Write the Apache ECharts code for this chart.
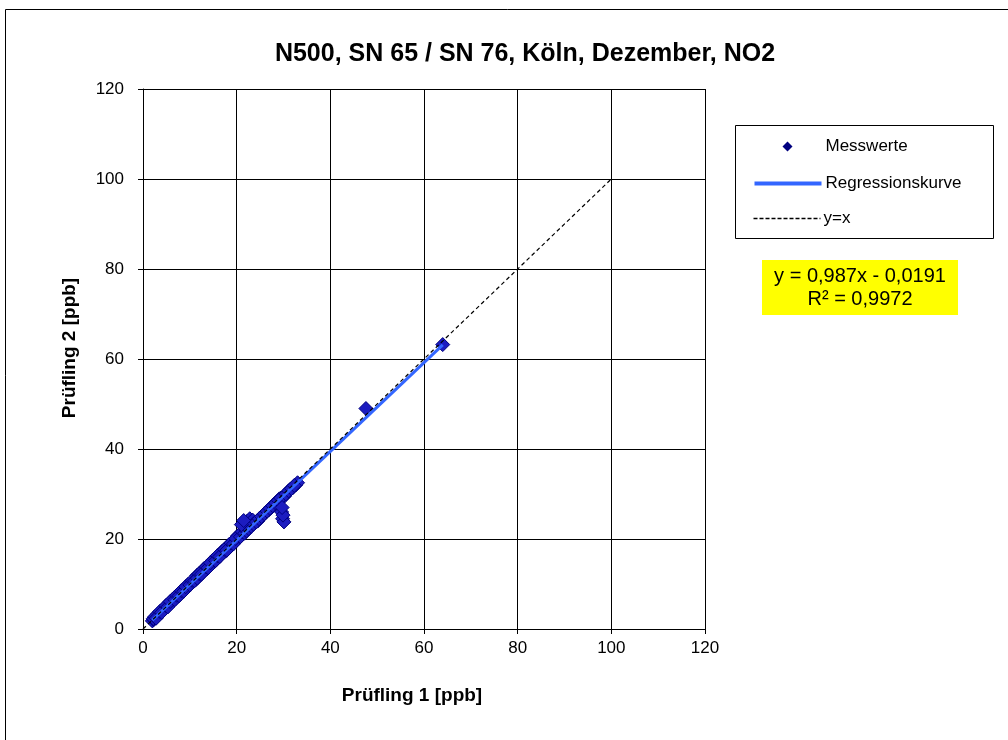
<!DOCTYPE html>
<html><head><meta charset="utf-8">
<script src="https://cdn.jsdelivr.net/npm/echarts@6/dist/echarts.min.js"></script>
<style>html,body{margin:0;padding:0;background:#fff}#c{width:1008px;height:740px}</style>
</head><body><div id="c"></div>
<script>
const titleText = 'N500, SN 65 / SN 76, Köln, Dezember, NO2';
const xAxisName = 'Prüfling 1 [ppb]';
const yAxisName = 'Prüfling 2 [ppb]';
const axisTicks = [0, 20, 40, 60, 80, 100, 120];
const seriesNames = ['Messwerte', 'Regressionskurve', 'y=x'];
const messwerte = [
 [2.0,1.8],[2.3,2.1],[2.6,2.5],[3.0,2.9],[3.4,3.3],[3.8,3.6],[4.2,4.1],[4.7,4.5],[5.1,5.0],[5.6,5.4],
 [6.0,5.9],[6.5,6.3],[7.0,6.8],[7.4,7.3],[7.9,7.7],[8.4,8.2],[8.9,8.7],[9.3,9.2],[9.8,9.6],[10.3,10.1],
 [10.8,10.6],[11.3,11.0],[11.8,11.6],[12.2,12.0],[12.7,12.5],[13.2,13.0],[13.7,13.4],[14.2,14.0],[14.7,14.5],[15.2,14.9],
 [15.7,15.5],[16.1,16.0],[16.6,16.4],[17.1,16.9],[17.6,17.3],[18.1,17.9],[18.6,18.3],[19.0,18.8],[19.5,19.3],[20.0,19.7],
 [20.5,20.3],[21.0,20.8],[21.4,21.2],[21.9,22.6],[22.3,24.0],[22.8,24.5],[23.4,24.2],[23.9,23.6],[24.5,24.0],[25.0,24.6],
 [25.6,25.3],[26.2,25.9],[26.8,26.4],[27.4,27.0],[28.0,27.7],[28.6,28.3],[29.1,28.9],[29.6,26.0],[29.8,24.5],[30.1,23.8],
 [30.2,29.5],[30.8,30.3],[31.4,31.0],[32.0,31.4],[32.6,32.0],[33.0,32.5],[47.6,49.0],[64.0,63.2],
 [2.2,2.3],[3.2,3.4],[4.5,4.7],[6.2,6.5],[8.0,8.3],[9.6,9.9],[11.5,11.9],[13.0,13.4],[14.9,15.3],[16.8,17.2],[18.4,18.8],[20.2,20.7],
 [2.5,2.7],[2.8,2.4],[3.6,3.9],[4.0,3.7],[4.9,5.2],[5.3,4.9],[5.8,6.1],[6.8,6.5],[7.2,7.5],[7.7,7.4],
 [8.2,8.5],[8.7,8.4],[9.1,9.4],[10.0,9.8],[10.5,10.8],[11.0,10.7],[11.6,11.3],[12.0,12.3],[12.5,12.2],[13.5,13.8],
 [13.9,13.6],[14.4,14.7],[15.5,15.2],[15.9,16.3],[16.4,16.1],[17.4,17.7],[17.9,17.5],[18.8,19.1],[19.3,18.9],[19.8,20.1],
 [20.8,20.5],[21.2,21.6],[21.7,21.3],[22.1,21.8],[22.6,22.3],[23.1,22.8],[23.6,23.3],[24.2,23.8],[24.8,24.5],[25.3,25.0],
 [25.9,25.6],[26.5,26.2],[27.1,26.8],[27.7,27.4],[28.3,28.0],[28.9,28.6],[29.4,29.1],[30.5,30.0],[31.1,30.7],[31.7,31.2],[32.3,31.9],
 [21.0,23.2],[21.5,24.1],[29.9,25.3],[29.7,27.0]
];
const regression = [[2.0, 1.955], [64.0, 63.15]];
const identity = [[0, 0], [100, 100]];
const eqLine1 = 'y = 0,987x - 0,0191';
const eqLine2 = 'R² = 0,9972';

const font = '"Liberation Sans", Arial, sans-serif';
const chart = echarts.init(document.getElementById('c'), null, {renderer: 'canvas'});
chart.setOption({
  backgroundColor: '#fff',
  animation: false,
  title: {
    text: titleText, left: 520, top: 37, textAlign: 'center',
    textStyle: {fontFamily: font, fontWeight: 'bold', fontSize: 25, color: '#000'}
  },
  grid: {left: 143, top: 89, right: 303, bottom: 111, containLabel: false},
  xAxis: {
    type: 'value', min: axisTicks[0], max: axisTicks[axisTicks.length-1], interval: 20,
    name: xAxisName, nameLocation: 'middle', nameGap: 57,
    nameTextStyle: {fontFamily: font, fontWeight: 'bold', fontSize: 19, color: '#000', padding: [0, 24, 0, 0]},
    axisLine: {show: true, onZero: false, lineStyle: {color: '#000', width: 1}},
    axisTick: {show: true, length: 5, lineStyle: {color: '#000'}},
    axisLabel: {fontFamily: font, fontSize: 17, color: '#000', margin: 11},
    splitLine: {show: true, lineStyle: {color: '#000', width: 1}}
  },
  yAxis: {
    type: 'value', min: axisTicks[0], max: axisTicks[axisTicks.length-1], interval: 20,
    name: yAxisName, nameLocation: 'middle', nameGap: 64, nameRotate: 90,
    nameTextStyle: {fontFamily: font, fontWeight: 'bold', fontSize: 19, color: '#000', padding: [0, 0, 0, 22]},
    axisLine: {show: true, onZero: false, lineStyle: {color: '#000', width: 1}},
    axisTick: {show: true, length: 5, lineStyle: {color: '#000'}},
    axisLabel: {fontFamily: font, fontSize: 17, color: '#000', margin: 19},
    splitLine: {show: true, lineStyle: {color: '#000', width: 1}}
  },
  series: [
    {name: seriesNames[0], type: 'scatter', data: messwerte, symbol: 'diamond', symbolSize: 14, z: 2,
     itemStyle: {color: '#1c1cc0', borderColor: '#00007f', borderWidth: 1, opacity: 1}},
    {name: seriesNames[1], type: 'line', data: regression, symbol: 'none', z: 3,
     lineStyle: {color: '#3366ff', width: 3}},
    {name: seriesNames[2], type: 'line', data: identity, symbol: 'none', z: 4,
     lineStyle: {color: '#000', width: 1.2, type: [4, 3]}}
  ],
  graphic: [
    {type: 'rect', left: 3, top: 7, shape: {width: 1020, height: 760}, silent: true, z: -10,
     style: {fill: 'none', stroke: '#000', lineWidth: 1}},
    {type: 'group', left: 735, top: 125, children: [
      {type: 'rect', shape: {x: 0, y: 0, width: 258, height: 113}, style: {fill: '#fff', stroke: '#000', lineWidth: 1}},
      {type: 'polygon', shape: {points: [[52, 16], [57, 21], [52, 26], [47, 21]]}, style: {fill: '#00007f'}},
      {type: 'text', x: 90, y: 21, style: {text: seriesNames[0], fill: '#000', font: '17px ' + font, verticalAlign: 'middle'}},
      {type: 'line', shape: {x1: 19, y1: 58, x2: 86, y2: 58}, style: {stroke: '#3366ff', lineWidth: 4}},
      {type: 'text', x: 90, y: 58, style: {text: seriesNames[1], fill: '#000', font: '17px ' + font, verticalAlign: 'middle'}},
      {type: 'line', shape: {x1: 18, y1: 93, x2: 85, y2: 93}, style: {stroke: '#000', lineWidth: 1.5, lineDash: [4, 2]}},
      {type: 'text', x: 88, y: 93, style: {text: seriesNames[2], fill: '#000', font: '17px ' + font, verticalAlign: 'middle'}}
    ]},
    {type: 'group', left: 762, top: 260, children: [
      {type: 'rect', shape: {x: 0, y: 0, width: 196, height: 55}, style: {fill: '#ffff00'}},
      {type: 'text', x: 98, y: 5, style: {text: eqLine1 + '\n' + eqLine2, align: 'center', fill: '#000',
        font: '20px ' + font, lineHeight: 23}}
    ]}
  ]
});
</script></body></html>
